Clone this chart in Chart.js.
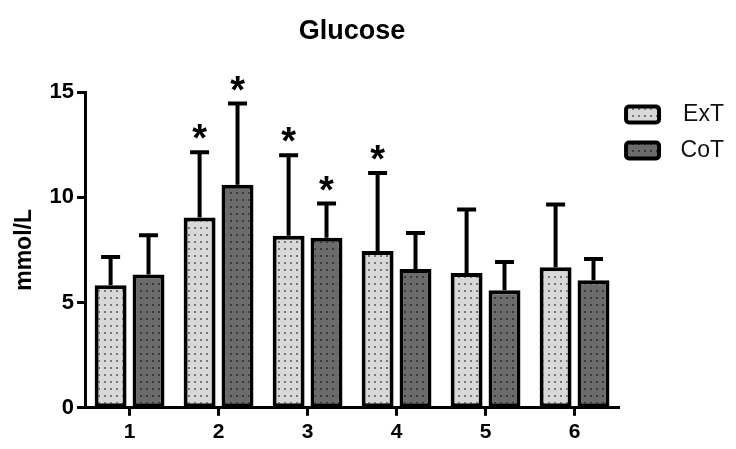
<!DOCTYPE html>
<html>
<head>
<meta charset="utf-8">
<script src="https://cdn.jsdelivr.net/npm/chart.js@4.4.1/dist/chart.umd.min.js"></script>
<style>
  html, body { margin: 0; padding: 0; background: #fff; }
  #wrap { width: 736px; height: 449px; }
</style>
</head>
<body>
<div id="wrap"><canvas id="chart-glucose"></canvas></div>
<script>
const FONT = "'Liberation Sans', Arial, sans-serif";

// ---- data -----------------------------------------------------------------
const categories = ["1", "2", "3", "4", "5", "6"];
const extMean = [5.82, 9.04, 8.17, 7.45, 6.40, 6.68];
const extSd   = [1.34, 3.10, 3.83, 3.70, 3.02, 2.98];
const cotMean = [6.33, 10.60, 8.08, 6.59, 5.58, 6.06];
const cotSd   = [1.87, 3.85, 1.62, 1.71, 1.34, 1.01];
const extSig  = [false, true, true, true, false, false];
const cotSig  = [false, true, true, false, false, false];
const yMin = 0, yMax = 15, yStep = 5;

Chart.defaults.font.family = FONT;
Chart.defaults.color = "#000";

// dotted fill like the original print
function dotPattern(bg, dot) {
  const c = document.createElement("canvas");
  c.width = 6;
  c.height = 7;
  const g = c.getContext("2d");
  g.fillStyle = bg;
  g.fillRect(0, 0, 6, 7);
  g.fillStyle = dot;
  g.fillRect(2, 3, 2, 2);
  return g.createPattern(c, "repeat");
}

const FILL_EXT = dotPattern("#d8d8d8", "#777");
const FILL_COT = dotPattern("#6b6b6b", "#3a3a3a");

// error bars (upper only) + significance stars, placed with the chart's scales
const errorBars = {
  id: "errorBars",
  afterDatasetsDraw(chart) {
    const { ctx } = chart;
    const y = chart.scales.y;
    const sets = [
      { mean: extMean, sd: extSd, sig: extSig },
      { mean: cotMean, sd: cotSd, sig: cotSig },
    ];
    ctx.save();
    ctx.strokeStyle = "#000";
    ctx.fillStyle = "#000";
    ctx.lineWidth = 4;
    ctx.lineCap = "butt";
    ctx.font = "bold 38px " + FONT;
    ctx.textAlign = "center";
    ctx.textBaseline = "alphabetic";
    sets.forEach((s, di) => {
      chart.getDatasetMeta(di).data.forEach((bar, i) => {
        const top = y.getPixelForValue(s.mean[i] + s.sd[i]);
        ctx.beginPath();
        ctx.moveTo(bar.x, bar.y);
        ctx.lineTo(bar.x, top);
        ctx.moveTo(bar.x - 9.5, top);
        ctx.lineTo(bar.x + 9.5, top);
        ctx.stroke();
        if (s.sig[i]) ctx.fillText("*", bar.x, top - 1);
      });
    });
    ctx.restore();
  },
};

function barSet(label, data, fill) {
  return {
    label,
    data,
    backgroundColor: fill,
    borderColor: "#000",
    borderWidth: 4,
    borderSkipped: false,
    categoryPercentage: 0.852,
    barPercentage: 0.842,
  };
}

new Chart(document.getElementById("chart-glucose"), {
  type: "bar",
  data: {
    labels: categories,
    datasets: [barSet("ExT", extMean, FILL_EXT), barSet("CoT", cotMean, FILL_COT)],
  },
  plugins: [errorBars],
  options: {
    responsive: true,
    maintainAspectRatio: false,
    animation: false,
    layout: { padding: { top: 0, right: 12, bottom: 0, left: 11 } },
    scales: {
      x: {
        grid: { drawOnChartArea: false, offset: false, tickLength: 8, tickWidth: 3, tickColor: "#000" },
        border: { color: "#000", width: 3 },
        ticks: { font: { size: 21, weight: "bold" }, padding: 4, color: "#000" },
      },
      y: {
        min: yMin,
        max: yMax,
        ticks: { stepSize: yStep, font: { size: 22, weight: "bold" }, padding: 3, color: "#000" },
        grid: { drawOnChartArea: false, tickLength: 8, tickWidth: 3, tickColor: "#000" },
        border: { color: "#000", width: 3 },
        title: {
          display: true,
          text: "mmol/L",
          font: { size: 23, weight: "bold" },
          padding: { top: 0, bottom: 8 },
          color: "#000",
        },
      },
    },
    plugins: {
      title: {
        display: true,
        text: "Glucose",
        fullSize: false,
        font: { size: 27, weight: "bold" },
        padding: { top: 15, bottom: 44.6 },
        color: "#000",
      },
      tooltip: { enabled: false },
      legend: {
        position: "right",
        align: "start",
        fullSize: false,
        title: { display: true, text: "", font: { size: 4, lineHeight: 1 }, padding: 0 },
        labels: {
          boxWidth: 33,
          boxHeight: 16,
          padding: 7,
          textAlign: "right",
          useBorderRadius: true,
          borderRadius: 3,
          color: "#111",
          font: { size: 23, lineHeight: 1.26 },
          generateLabels: (chart) =>
            Chart.defaults.plugins.legend.labels.generateLabels(chart).map((item) => ({
              ...item,
              text: [item.text],
            })),
        },
      },
    },
  },
});
</script>
</body>
</html>
